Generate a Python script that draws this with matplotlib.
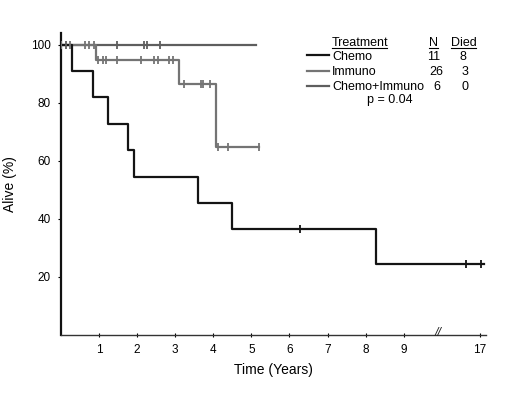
import numpy as np
import matplotlib
matplotlib.use('Agg')
import matplotlib.pyplot as plt

plt.rcParams['font.family'] = ['Liberation Sans', 'DejaVu Sans']

# step curves (time in years, survival in %)
chemo_t = [0, 0.29, 0.84, 1.24, 1.76, 1.92, 3.61, 4.49, 8.28]
chemo_s = [100, 90.9, 81.8, 72.7, 63.6, 54.5, 45.5, 36.4, 24.2]
chemo_cens = [6.28, 16.63, 17.02]
chemo_end = 17.12

immuno_t = [0, 0.91, 3.10, 4.07]
immuno_s = [100, 94.7, 86.3, 64.7]
immuno_cens = [0.01, 0.24, 0.62, 0.74, 0.87,
               0.97, 1.11, 1.18, 1.47, 2.11, 2.45, 2.55, 2.84, 2.93,
               3.22, 3.67, 3.74, 3.90,
               4.11, 4.38, 5.21]
immuno_end = 5.21

combo_t = [0]
combo_s = [100]
combo_cens = [0.13, 1.46, 2.18, 2.27, 2.59]
combo_end = 5.13

groups = ['Chemo', 'Immuno', 'Chemo+Immuno']
n_pat = [11, 26, 6]
n_died = [8, 3, 0]
p_text = 'p = 0.04'

xtick_years = [1, 2, 3, 4, 5, 6, 7, 8, 9, 17]
yticks = [20, 40, 60, 80, 100]

colors = ['#141414', '#747474', '#5e5e5e']

def brk(t):
    # axis is broken after 9: years 10..16 are cut out
    t = np.asarray(t, dtype=float)
    return np.where(t <= 10, t, t - 6)

def draw_km(ax, t, s, cens, end, col):
    tt = list(t) + [end]
    ss = list(s) + [s[-1]]
    ax.step(brk(tt), ss, where='post', color=col, lw=1.6, zorder=3)
    idx = np.searchsorted(t, cens, side='right') - 1
    cy = np.array(s)[idx]
    ax.plot(brk(cens), cy, ls='none', marker='|', ms=6, mew=1.3, color=col, zorder=4)

fig = plt.figure(figsize=(5.2, 3.97), dpi=100)
ax = fig.add_axes([61/520, 1-334.7/397, (486-61)/520, (334.7-33)/397])

draw_km(ax, combo_t, combo_s, combo_cens, combo_end, colors[2])
draw_km(ax, immuno_t, immuno_s, immuno_cens, immuno_end, colors[1])
draw_km(ax, chemo_t, chemo_s, chemo_cens, chemo_end, colors[0])

ax.set_xlim(0, 11.16)
ax.set_ylim(0, 104)
for side in ['top', 'right']:
    ax.spines[side].set_visible(False)
ax.spines['left'].set_linewidth(1.6)
ax.spines['left'].set_color('#111111')
ax.spines['bottom'].set_linewidth(1.0)
ax.spines['bottom'].set_color('#333333')

ax.set_xticks(brk(xtick_years))
ax.set_xticklabels([str(y) for y in xtick_years])
ax.set_yticks(yticks)
ax.tick_params(axis='x', direction='inout', length=3, width=0.8, pad=5, labelsize=8.5)
ax.tick_params(axis='y', direction='out', length=2.5, width=0.8, pad=5, labelsize=8.5)

ax.text(9.9, 0.5, '//', ha='center', va='center', fontsize=9, style='italic', color='#222222')

ax.set_xlabel('Time (Years)', fontsize=10, labelpad=5)
ax.set_ylabel('Alive (%)', fontsize=10, labelpad=10)

# legend table, positions in figure pixels
def fx(px):
    return px/520
def fy(py):
    return 1 - py/397

fs = 9
heads = [('Treatment', 332, 'left'), ('N', 433, 'center'), ('Died', 463.5, 'center')]
for txt, x, ha in heads:
    fig.text(fx(x), fy(46), txt, ha=ha, va='baseline', fontsize=fs)
for x0, x1 in [(332, 387), (429, 438), (451, 476)]:
    fig.add_artist(plt.Line2D([fx(x0), fx(x1)], [fy(48.3)]*2, color='black', lw=0.8))

rows_base = [60, 75, 90]
rows_line = [55, 71, 86]
n_x = [434, 436, 436.5]
d_x = [463, 465, 465]
for i, g in enumerate(groups):
    y = rows_base[i]
    fig.add_artist(plt.Line2D([fx(307), fx(329)], [fy(rows_line[i])]*2, color=colors[i], lw=1.6))
    fig.text(fx(332), fy(y), g, ha='left', va='baseline', fontsize=fs)
    fig.text(fx(n_x[i]), fy(y), str(n_pat[i]), ha='center', va='baseline', fontsize=fs)
    fig.text(fx(d_x[i]), fy(y), str(n_died[i]), ha='center', va='baseline', fontsize=fs)
fig.text(fx(390), fy(102.5), p_text, ha='center', va='baseline', fontsize=fs)

fig.savefig('out.png', dpi=100)
